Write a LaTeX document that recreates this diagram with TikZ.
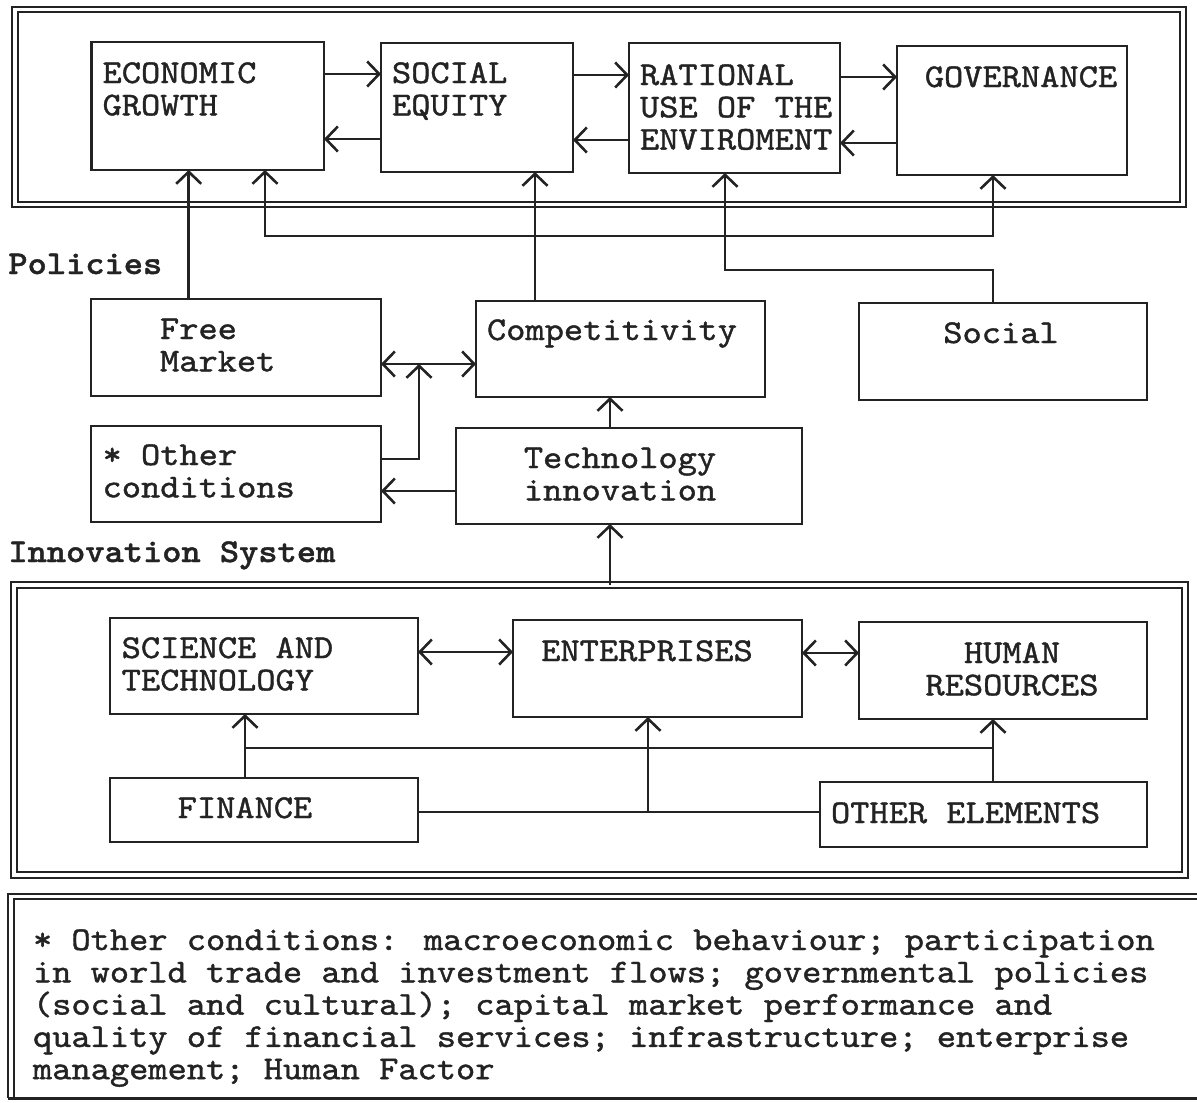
\documentclass[tikz,border=0pt]{standalone}
\usepackage{fontspec}
\usetikzlibrary{arrows.meta,fit}
\newfontfamily\cour{lmmono10-regular}[Extension=.otf, BoldFont=lmmonolt10-bold, FakeStretch=1.1, FakeBold=1.2]
\newcommand\tstrut{\rule{0pt}{24pt}}
\definecolor{ink}{RGB}{35,35,35}
\begin{document}
\begin{tikzpicture}[x=1pt,y=-1pt,
  box/.style={draw=ink, line width=2.8pt, inner sep=0pt, outer sep=0pt},
  dframe/.style={draw=ink, double=white, double distance=3.2pt, line width=2pt, inner sep=0pt, outer sep=0pt},
  txt/.style={inner sep=0pt, outer sep=0pt, text=ink, font=\cour\fontsize{33.3}{32.3}\selectfont},
  lft/.style={txt, align=left, anchor=north west},
  ctr/.style={txt, align=center, anchor=north},
  conn/.style={draw=ink, line width=2.6pt},
  arr/.style={conn, -{Straight Barb[length=12pt,width=25pt]}},
  darr/.style={conn, {Straight Barb[length=12pt,width=25pt]}-{Straight Barb[length=12pt,width=25pt]}}
]
\fill[white] (0,0) rectangle (1197,1103);
\useasboundingbox (0,0) rectangle (1197,1103);

% frames
\node[dframe, fit={(15,9.5) (1183,204.5)}] (topframe) {};
\node[dframe, fit={(14,585) (1185,875)}] (botframe) {};
\draw[ink, double=white, double distance=3.2pt, line width=2pt] (1197,896.5) -- (11,896.5) -- (11,1098);
\draw[ink, line width=2.6pt] (8,1098.5) -- (1197,1098.5);

% top boxes
\node[box, fit={(91.5,42) (324,170)}] (econ) {};
\node[box, fit={(381,43) (573,172)}] (soc) {};
\node[box, fit={(629,43) (840,173)}] (rat) {};
\node[box, fit={(897,46) (1127,175)}] (gov) {};
\node[lft] (econT) at (102.6,59) {\tstrut ECONOMIC\\GROWTH};
\node[lft] (socT) at (392,59) {\tstrut SOCIAL\\EQUITY};
\node[lft] (ratT) at (640,61) {\tstrut RATIONAL\\USE OF THE\\ENVIROMENT};
\node[ctr] (govT) at (1021,63) {\tstrut GOVERNANCE};

% middle boxes
\node[box, fit={(91,299) (381,396)}] (fm) {};
\node[box, fit={(476,301) (765,397)}] (comp) {};
\node[box, fit={(859,303) (1147,400)}] (socl) {};
\node[box, fit={(91,426) (381,522)}] (oc) {};
\node[box, fit={(456,428) (802,524)}] (tech) {};
\node[lft] (fmT) at (160,315) {\tstrut Free\\Market};
\node[lft] (compT) at (487,316) {\tstrut Competitivity};
\node[ctr] (soclT) at (1001,319) {\tstrut Social};
\node[lft] (ocT) at (102.6,441) {\tstrut * Other\\conditions};
\node[ctr] (techT) at (620,444) {\tstrut Technology\\innovation};

% labels
\node[lft] (pol) at (8.4,250) {\tstrut\bfseries Policies};
\node[lft] (inn) at (8.4,538) {\tstrut\bfseries Innovation System};

% bottom boxes
\node[box, fit={(110,618) (418,714)}] (sci) {};
\node[box, fit={(513,620) (802,717)}] (ent) {};
\node[box, fit={(859,622) (1147,719)}] (hum) {};
\node[box, fit={(110,778) (418,842)}] (fin) {};
\node[box, fit={(820,782) (1147,847)}] (oth) {};
\node[lft] (sciT) at (121.7,634) {\tstrut SCIENCE AND\\TECHNOLOGY};
\node[ctr] (entT) at (647,637) {\tstrut ENTERPRISES};
\node[ctr] (humT) at (1012,639) {\tstrut HUMAN\\RESOURCES};
\node[ctr] (finT) at (245,794) {\tstrut FINANCE};
\node[lft] (othT) at (831,799) {\tstrut OTHER ELEMENTS};

% footnote
\node[lft] (note) at (33,926) {\tstrut * Other conditions: macroeconomic behaviour; participation\\in world trade and investment flows; governmental policies\\(social and cultural); capital market performance and\\quality of financial services; infrastructure; enterprise\\management; Human Factor};

% top connectors
\draw[arr] (econ.east |- 0,74) -- (soc.west |- 0,74);
\draw[arr] (soc.west |- 0,139) -- (econ.east |- 0,139);
\draw[arr] (soc.east |- 0,75) -- (rat.west |- 0,75);
\draw[arr] (rat.west |- 0,140) -- (soc.east |- 0,140);
\draw[arr] (rat.east |- 0,77) -- (gov.west |- 0,77);
\draw[arr] (gov.west |- 0,143) -- (rat.east |- 0,143);

% policies connectors
\draw[arr] (188.7,0 |- fm.north) -- (188.7,0 |- econ.south);
\draw[darr] (265,0 |- econ.south) -- (265,236) -- (993,236) -- (993,0 |- gov.south);
\draw[arr] (535,0 |- comp.north) -- (535,0 |- soc.south);
\draw[arr] (993,0 |- socl.north) -- (993,270) -- (725,270) -- (725,0 |- rat.south);
\coordinate (junc) at (419,364);
\draw[darr] (fm.east |- junc) -- (comp.west |- junc);
\draw[arr] (oc.east |- 0,459) -- (419,459) -- (junc);
\draw[arr] (tech.west |- 0,491) -- (oc.east |- 0,491);
\draw[arr] (610,0 |- tech.north) -- (610,0 |- comp.south);
\draw[arr] (610,0 |- botframe.north) -- (610,0 |- tech.south);

% innovation system connectors
\draw[darr] (sci.east |- 0,652) -- (ent.west |- 0,652);
\draw[darr] (ent.east |- 0,653) -- (hum.west |- 0,653);
\draw[arr] (245,0 |- fin.north) -- (245,0 |- sci.south);
\draw[conn] (245,748) -- (993,748);
\draw[arr] (993,0 |- oth.north) -- (993,0 |- hum.south);
\draw[conn] (fin.east |- 0,812) -- (oth.west |- 0,812);
\draw[arr] (648,812) -- (648,0 |- ent.south);
\end{tikzpicture}
\end{document}
